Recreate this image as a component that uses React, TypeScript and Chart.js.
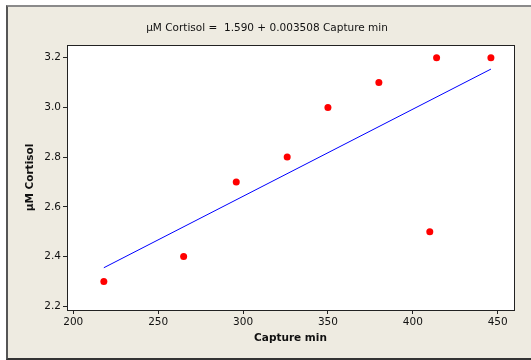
import React, { useEffect, useRef } from "react";
import { Chart, registerables } from "chart.js";

Chart.register(...registerables);

const captureMin = [218, 265, 296, 326, 350, 380, 410, 414, 446];
const cortisol = [2.3, 2.4, 2.7, 2.8, 3.0, 3.1, 2.5, 3.2, 3.2];
const fitX = [218, 446];
const fitY = [2.355, 3.154];
const xTicks = [200, 250, 300, 350, 400, 450];
const yTicks = [2.2, 2.4, 2.6, 2.8, 3.0, 3.2];
const titleText = "µM Cortisol =  1.590 + 0.003508 Capture min";
const xTitle = "Capture min";
const yTitle = "µM Cortisol";

const FONT = "'DejaVu Sans', Tahoma, sans-serif";

const framePlugin = {
  id: "framePlugin",
  beforeDraw(chart: any) {
    const { ctx, chartArea } = chart;
    ctx.save();
    ctx.fillStyle = "#ffffff";
    ctx.fillRect(chartArea.left, chartArea.top, chartArea.right - chartArea.left, chartArea.bottom - chartArea.top);
    ctx.restore();
  },
  afterDraw(chart: any) {
    const { ctx, chartArea } = chart;
    ctx.save();
    ctx.strokeStyle = "#222";
    ctx.lineWidth = 1;
    ctx.strokeRect(
      Math.round(chartArea.left) + 0.5,
      Math.round(chartArea.top) + 0.5,
      Math.round(chartArea.right - chartArea.left),
      Math.round(chartArea.bottom - chartArea.top)
    );
    ctx.fillStyle = "#111";
    ctx.textAlign = "center";
    ctx.textBaseline = "middle";
    ctx.font = `10.5px ${FONT}`;
    ctx.fillText(titleText, 267, 28);
    ctx.font = `bold 10.5px ${FONT}`;
    ctx.fillText(xTitle, (chartArea.left + chartArea.right) / 2, 338);
    ctx.translate(30, (chartArea.top + chartArea.bottom) / 2);
    ctx.rotate(-Math.PI / 2);
    ctx.fillText(yTitle, 0, 0);
    ctx.restore();
  },
};

export default function App() {
  const ref = useRef<HTMLCanvasElement>(null);

  useEffect(() => {
    if (!ref.current) return;
    const chart = new Chart(ref.current, {
      type: "scatter",
      data: {
        datasets: [
          {
            type: "line",
            data: fitX.map((x, i) => ({ x, y: fitY[i] })),
            borderColor: "#0000ff",
            borderWidth: 1,
            pointRadius: 0,
            fill: false,
            order: 2,
          },
          {
            type: "scatter",
            data: captureMin.map((x, i) => ({ x, y: cortisol[i] })),
            backgroundColor: "#ff0000",
            borderWidth: 0,
            pointRadius: 3.5,
            order: 1,
          },
        ],
      },
      options: {
        animation: false,
        responsive: false,
        maintainAspectRatio: false,
        events: [],
        layout: { padding: { left: 0, top: 45, right: 17, bottom: 0 } },
        plugins: { legend: { display: false }, tooltip: { enabled: false }, title: { display: false } },
        scales: {
          x: {
            type: "linear",
            min: 196.3,
            max: 459.6,
            afterBuildTicks: (s: any) => {
              s.ticks = xTicks.map((v) => ({ value: v }));
            },
            afterFit: (s: any) => {
              s.height = 50;
            },
            grid: { drawOnChartArea: false, drawTicks: true, tickLength: 4, color: "#222" },
            border: { display: false },
            ticks: { color: "#111", font: { family: FONT, size: 10.5 }, padding: 2, maxRotation: 0 },
          },
          y: {
            type: "linear",
            min: 2.185,
            max: 3.251,
            afterBuildTicks: (s: any) => {
              s.ticks = yTicks.map((v) => ({ value: v }));
            },
            afterFit: (s: any) => {
              s.width = 67;
            },
            grid: { drawOnChartArea: false, drawTicks: true, tickLength: 4, color: "#222" },
            border: { display: false },
            ticks: {
              color: "#111",
              font: { family: FONT, size: 10.5 },
              padding: 2,
              callback: (v: any) => Number(v).toFixed(1),
            },
          },
        },
      },
      plugins: [framePlugin],
    });
    return () => chart.destroy();
  }, []);

  return (
    <div style={{ position: "absolute", left: 0, top: 0, width: 531, height: 360, background: "#fff", overflow: "hidden" }}>
      <div
        style={{
          position: "absolute",
          left: 6,
          top: 5,
          width: 540,
          height: 351,
          background: "#EEEBE1",
          borderTop: "2px solid #8a8a8a",
          borderLeft: "2px solid #555",
          borderBottom: "2px solid #333",
        }}
      />
      <canvas ref={ref} width={531} height={360} style={{ position: "absolute", left: 0, top: 0 }} />
    </div>
  );
}
